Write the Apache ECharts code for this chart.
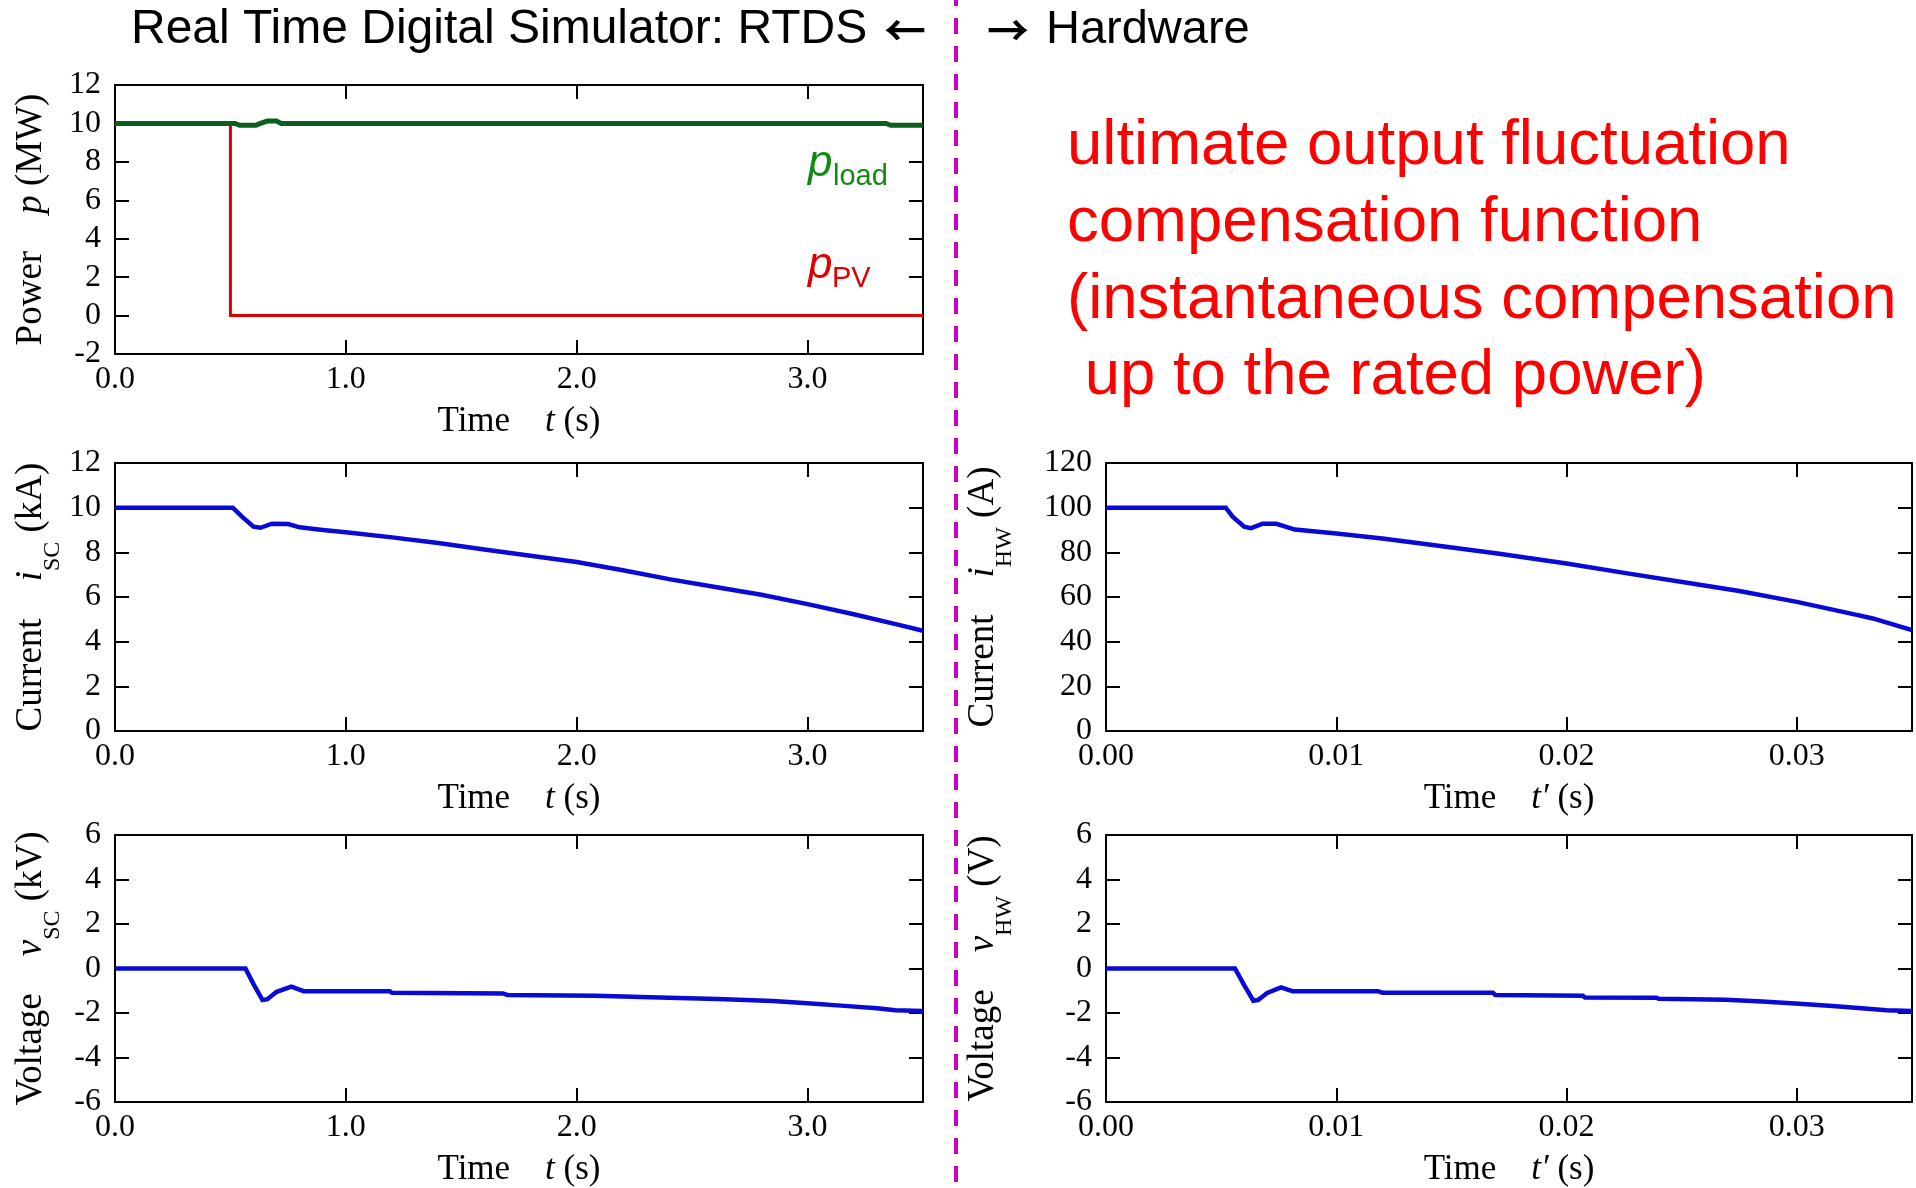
<!DOCTYPE html>
<html>
<head>
<meta charset="utf-8">
<title>RTDS / Hardware waveforms</title>
<script src="https://cdn.jsdelivr.net/npm/echarts@6/dist/echarts.min.js"></script>
<style>
  html, body { margin: 0; padding: 0; background: #fff; }
  #chart { width: 1916px; height: 1188px; }
</style>
</head>
<body>
<div id="chart"></div>
<script>
// ---- Waveform data -------------------------------------------------------
// RTDS side, time t in seconds
const loadT = [0, 0.52, 0.54, 0.61, 0.63, 0.66, 0.70, 0.72, 3.34, 3.36, 3.5];
const loadP = [10, 10, 9.9, 9.9, 10, 10.12, 10.12, 10, 10, 9.9, 9.9];          // p_load (MW)
const pvT = [0, 0.5, 0.5, 3.5];
const pvP = [10, 10, 0, 0];                                                    // p_PV (MW)

const iscT = [0, 0.51, 0.55, 0.6, 0.63, 0.68, 0.75, 0.8, 0.9, 1.0, 1.2, 1.4, 1.6, 1.8, 2.0, 2.2, 2.4, 2.6, 2.8, 3.0, 3.2, 3.4, 3.5];
const iscV = [10, 10, 9.6, 9.15, 9.1, 9.28, 9.27, 9.12, 9.0, 8.9, 8.67, 8.42, 8.13, 7.85, 7.57, 7.2, 6.8, 6.45, 6.1, 5.68, 5.23, 4.74, 4.49]; // i_SC (kA)

const vscT = [0, 0.565, 0.6, 0.639, 0.66, 0.7, 0.764, 0.817, 1.19, 1.2, 1.68, 1.7, 2.08, 2.4, 2.61, 2.85, 3.0, 3.16, 3.3, 3.38, 3.5];
const vscV = [0, 0, -0.7, -1.42, -1.38, -1.05, -0.82, -1.02, -1.02, -1.09, -1.12, -1.19, -1.22, -1.31, -1.37, -1.46, -1.56, -1.68, -1.79, -1.88, -1.91]; // v_SC (kV)

// Hardware side, time t' in seconds
const ihwT = [0, 0.0052, 0.0055, 0.006, 0.0063, 0.0068, 0.0074, 0.0082, 0.01, 0.012, 0.0146, 0.017, 0.02, 0.0225, 0.0253, 0.0275, 0.03, 0.0325, 0.0333, 0.035];
const ihwV = [100, 100, 96, 91.5, 90.8, 92.8, 92.8, 90.2, 88.4, 86.2, 82.7, 79.5, 75.0, 70.8, 66.3, 62.7, 57.8, 52.2, 50.4, 45.2]; // i_HW (A)

const vhwT = [0, 0.0056, 0.006, 0.0064, 0.0066, 0.007, 0.0076, 0.0081, 0.0118, 0.012, 0.0168, 0.0169, 0.0207, 0.0208, 0.0239, 0.024, 0.0269, 0.0285, 0.0301, 0.0317, 0.0328, 0.0339, 0.035];
const vhwV = [0, 0, -0.75, -1.45, -1.42, -1.1, -0.85, -1.02, -1.02, -1.09, -1.09, -1.19, -1.22, -1.30, -1.31, -1.36, -1.40, -1.48, -1.58, -1.70, -1.79, -1.88, -1.91]; // v_HW (V)

// Axis ranges: [min, max, step]
const rtdsTimeAxis = [0, 3.5, 1];
const hwTimeAxis = [0, 0.035, 0.01];
const powerAxis = [-2, 12, 2];
const iscAxis = [0, 12, 2];
const voltAxis = [-6, 6, 2];
const ihwAxis = [0, 120, 20];

// Text
const titleLeft = 'Real Time Digital Simulator: RTDS';
const titleRight = 'Hardware';
const noteLines = [
  'ultimate output fluctuation',
  'compensation function',
  '(instantaneous compensation',
  ' up to the rated power)'
];

// ---- Styling -------------------------------------------------------------
const SERIF = '"Liberation Serif", "Times New Roman", Times, serif';
const SANS = '"Liberation Sans", Arial, Helvetica, sans-serif';
const ARROW_FONT = '"Noto Sans CJK JP", "Noto Sans CJK SC", "DejaVu Sans", sans-serif';
const BLUE = '#0a0ad6';
const LOAD_GREEN = '#0b5e1c';
const PV_RED = '#dd0000';

const zip = (xs, ys) => xs.map((x, i) => [x, ys[i]]);

const grids = [
  { left: 115, top: 85, width: 808, height: 269 },
  { left: 115, top: 463, width: 808, height: 268 },
  { left: 115, top: 835, width: 808, height: 270 },
  { left: 1106, top: 463, width: 806, height: 268 },
  { left: 1106, top: 835, width: 806, height: 270 }
];

const nameStyle = {
  fontFamily: SERIF, fontSize: 37, color: '#000',
  rich: {
    i: { fontFamily: SERIF, fontSize: 37, fontStyle: 'italic', color: '#000' },
    s: { fontFamily: SERIF, fontSize: 24, color: '#000', padding: [43, 0, 0, 0] }
  }
};
const xNameStyle = {
  fontFamily: SERIF, fontSize: 35, color: '#000',
  rich: { i: { fontFamily: SERIF, fontSize: 35, fontStyle: 'italic', color: '#000' } }
};

const lineCommon = { show: true, onZero: false, lineStyle: { color: '#000', width: 2 } };
const tickCommon = { show: true, inside: true, length: 14, lineStyle: { color: '#000', width: 2 } };

const xAxes = [];
const yAxes = [];

function addPanel(gi, xr, yr, xName, yName, yGap, digits) {
  const xBase = {
    type: 'value', gridIndex: gi, min: xr[0], max: xr[1], interval: xr[2],
    axisLine: lineCommon, axisTick: tickCommon, splitLine: { show: false }
  };
  xAxes.push(Object.assign({}, xBase, {
    position: 'bottom',
    axisLabel: {
      margin: 10, fontFamily: SERIF, fontSize: 32, color: '#000', showMaxLabel: false,
      formatter: v => v.toFixed(digits)
    },
    name: xName, nameLocation: 'middle', nameGap: 50, nameTextStyle: xNameStyle
  }));
  xAxes.push(Object.assign({}, xBase, { position: 'top', axisLabel: { show: false } }));

  const yBase = {
    type: 'value', gridIndex: gi, min: yr[0], max: yr[1], interval: yr[2],
    axisLine: lineCommon, axisTick: tickCommon, splitLine: { show: false }
  };
  yAxes.push(Object.assign({}, yBase, {
    position: 'left',
    axisLabel: { margin: 14, fontFamily: SERIF, fontSize: 32, color: '#000' },
    name: yName, nameLocation: 'middle', nameGap: yGap, nameTextStyle: nameStyle
  }));
  yAxes.push(Object.assign({}, yBase, { position: 'right', axisLabel: { show: false } }));
}

addPanel(0, rtdsTimeAxis, powerAxis, 'Time    {i|t} (s)', 'Power    {i|p} (MW)', 65, 1);
addPanel(1, rtdsTimeAxis, iscAxis, 'Time    {i|t} (s)', 'Current    {i|i}{s|SC} (kA)', 50, 1);
addPanel(2, rtdsTimeAxis, voltAxis, 'Time    {i|t} (s)', 'Voltage    {i|v}{s|SC} (kV)', 50, 1);
addPanel(3, hwTimeAxis, ihwAxis, 'Time    {i|t\u2032} (s)', 'Current    {i|i}{s|HW} (A)', 89, 2);
addPanel(4, hwTimeAxis, voltAxis, 'Time    {i|t\u2032} (s)', 'Voltage    {i|v}{s|HW} (V)', 89, 2);

function trace(panel, t, v, color, width) {
  return {
    type: 'line', xAxisIndex: 2 * panel, yAxisIndex: 2 * panel,
    data: zip(t, v), showSymbol: false, silent: true,
    lineStyle: { color: color, width: width, cap: 'butt', join: 'miter' }
  };
}

const series = [
  trace(0, pvT, pvP, PV_RED, 3),
  trace(0, loadT, loadP, LOAD_GREEN, 5),
  trace(1, iscT, iscV, BLUE, 4.5),
  trace(2, vscT, vscV, BLUE, 4.5),
  trace(3, ihwT, ihwV, BLUE, 4.5),
  trace(4, vhwT, vhwV, BLUE, 4.5)
];

// Text placed by its alphabetic baseline (canvas 'middle' sits ~0.3465 em above it for Arial metrics)
function label(text, x, baseline, size, color, extra) {
  return {
    type: 'text', x: x, y: baseline - 0.3465 * size, z: 50,
    style: Object.assign({
      text: text, fill: color, fontFamily: SANS, fontSize: size,
      align: 'left', verticalAlign: 'middle', textAlign: 'left', textVerticalAlign: 'middle'
    }, extra || {})
  };
}

// Arrow glyphs, centred on the cap height of the headings
function arrow(ch, x) {
  return {
    type: 'text', x: x, y: 30, z: 50,
    style: {
      text: ch, fill: '#000', fontFamily: ARROW_FONT, fontSize: 42, fontWeight: 'bold',
      align: 'left', verticalAlign: 'middle', textAlign: 'left', textVerticalAlign: 'middle'
    }
  };
}

const graphic = [
  label(titleLeft, 131, 46, 48, '#000'),
  arrow('\u2190', 884),
  arrow('\u2192', 987),
  label(titleRight, 1046, 46, 47, '#000'),
  label(noteLines[0], 1067, 168, 63.5, '#ff0000'),
  label(noteLines[1], 1067, 245, 63.5, '#ff0000'),
  label(noteLines[2], 1067, 322, 63.5, '#ff0000'),
  label(noteLines[3], 1067, 398, 63.5, '#ff0000'),
  label('p', 808, 179, 44, '#118a11', { fontStyle: 'italic' }),
  label('load', 833, 187, 29, '#118a11'),
  label('p', 808, 281, 44, PV_RED, { fontStyle: 'italic' }),
  label('PV', 832, 289, 29, PV_RED),
  {
    type: 'line', z: 60,
    shape: { x1: 956, y1: 0, x2: 956, y2: 1188 },
    style: { stroke: '#cc00cc', lineWidth: 4, lineDash: [16, 12], lineDashOffset: 10 }
  }
];

const chart = echarts.init(document.getElementById('chart'), null, { renderer: 'canvas' });
chart.setOption({
  backgroundColor: '#fff',
  animation: false,
  grid: grids,
  xAxis: xAxes,
  yAxis: yAxes,
  series: series,
  graphic: graphic
});
</script>
</body>
</html>
